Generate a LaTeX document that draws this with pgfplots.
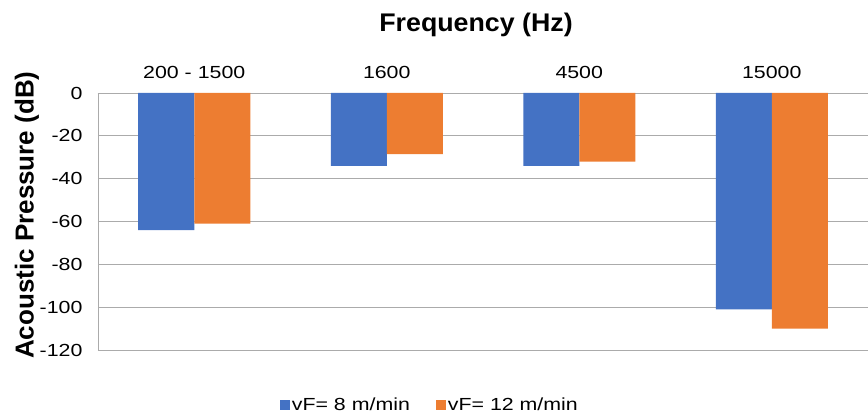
\documentclass[border=0pt]{standalone}
\usepackage{pgfplots}
\pgfplotsset{compat=1.18}
\usepackage{fontspec}
\setmainfont{Liberation Sans}
\newfontfamily\tickfont{Liberation Sans}[FakeStretch=1.22]
\newfontfamily\titlefont{Liberation Sans}[FakeStretch=1.05]
\definecolor{xblue}{HTML}{4472C4}
\definecolor{xorange}{HTML}{ED7D31}
\definecolor{gridgray}{HTML}{ABABAB}
\begin{document}
\begin{tikzpicture}
\useasboundingbox (0,0) rectangle (868pt,420pt);
\begin{axis}[
  at={(98pt,70pt)}, anchor=south west,
  scale only axis, width=770pt, height=257pt,
  ybar=0pt, bar width=56pt,
  xmin=-0.5, xmax=3.5, ymin=-120, ymax=0,
  xtick={0,1,2,3}, xticklabels={200 - 1500,1600,4500,15000},
  axis x line*=top, axis y line*=left,
  xticklabel pos=right,
  ytick={-120,-100,-80,-60,-40,-20,0},
  ymajorgrids, grid style={gridgray, line width=0.9pt},
  major tick length=0pt,
  axis line style={gridgray, line width=0.9pt},
  tick label style={font=\tickfont\fontsize{17.5}{21}\selectfont},
  xticklabel style={yshift=11pt},
  yticklabel style={xshift=-12pt},
  /pgf/number format/assume math mode=true,
  title={Frequency (Hz)},
  title style={font=\titlefont\fontsize{25.5}{30}\selectfont\bfseries, at={(axis description cs:0.491,1.241)}, anchor=center},
  ylabel={Acoustic Pressure (dB)},
  ylabel style={font=\fontsize{26}{30}\selectfont\bfseries, at={(axis description cs:-0.0922,0.525)}, anchor=center},
  legend style={at={(axis description cs:0.431,-0.214)}, anchor=center, legend columns=2, draw=none,
    font=\tickfont\fontsize{17.5}{21}\selectfont,
    /tikz/every even column/.append style={column sep=24pt}},
]
\addplot[fill=xblue, draw=none, legend image code/.code={\fill[xblue] (0pt,-5pt) rectangle (10pt,5pt);}]
  coordinates {(0,-64) (1,-34) (2,-34) (3,-101)};
\addplot[fill=xorange, draw=none, legend image code/.code={\fill[xorange] (0pt,-5pt) rectangle (10pt,5pt);}]
  coordinates {(0,-61) (1,-28.5) (2,-32) (3,-110)};
\legend{vF= 8 m/min, vF= 12 m/min}
\end{axis}
\end{tikzpicture}
\end{document}
